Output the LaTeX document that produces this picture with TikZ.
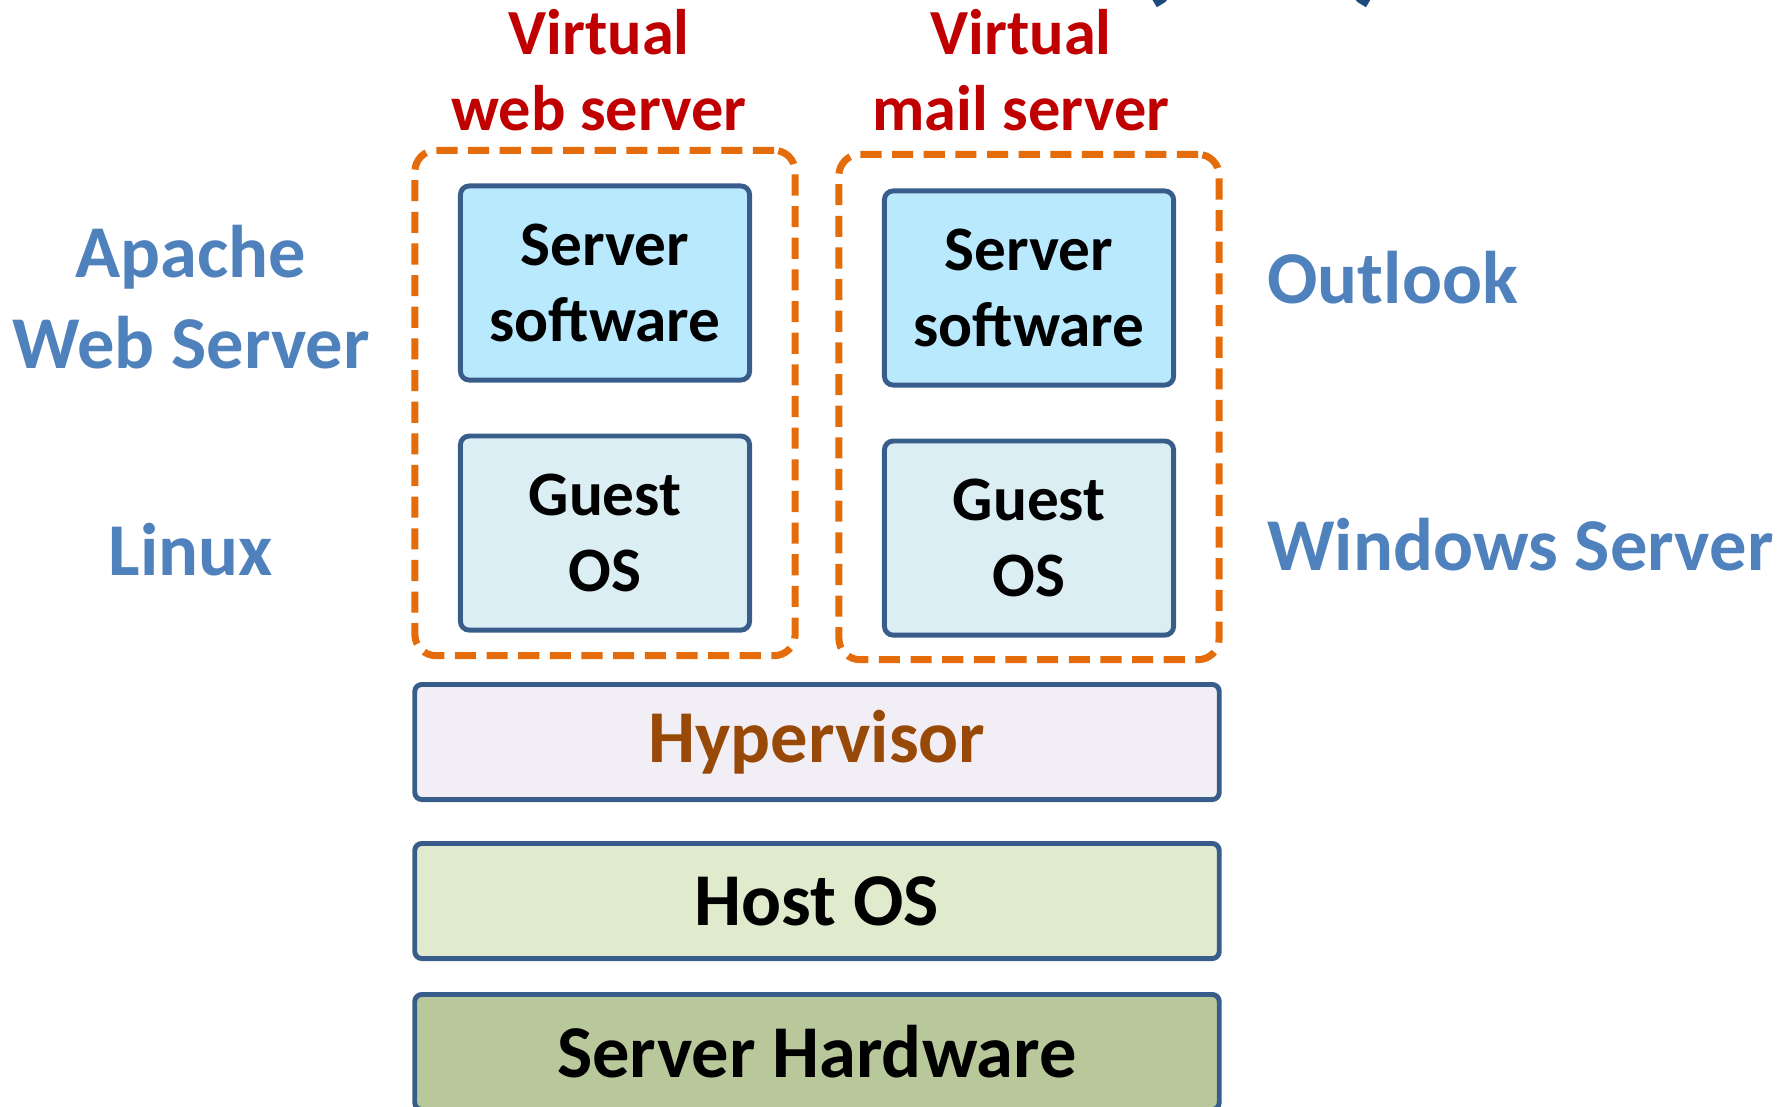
\documentclass[tikz,border=0pt]{standalone}
\usepackage{fontspec}
\setmainfont{Carlito}
\usetikzlibrary{positioning}

\definecolor{boxline}{HTML}{385D8A}
\definecolor{vmorange}{HTML}{E46C0A}
\definecolor{tagred}{HTML}{C00000}
\definecolor{labelblue}{HTML}{4F81BD}
\definecolor{titleblue}{HTML}{1F497D}
\definecolor{swfill}{HTML}{B9E9FD}
\definecolor{guestfill}{HTML}{DBEEF4}
\definecolor{hyperfill}{HTML}{F1EFF5}
\definecolor{hypertext}{HTML}{984807}
\definecolor{hostfill}{HTML}{E0EACD}
\definecolor{hwfill}{HTML}{B9C89B}

\begin{document}
\begin{tikzpicture}[
            x = 0.01cm, y = -0.01cm, % one unit per pixel, y pointing down
            node distance = 0.51cm, % gap between stacked boxes
            font = \bfseries
        ]

        \tikzstyle{part}=[
            draw = boxline,
            line width = 1.4pt,
            rounded corners = 2.5pt,
            minimum width = 2.89cm,
            minimum height = 1.94cm,
            align = center,
            font = \fontsize{18}{21.5}\selectfont\bfseries
        ]
        \tikzstyle{layer}=[
            draw = boxline,
            line width = 1.4pt,
            rounded corners = 2pt,
            minimum width = 8.04cm,
            minimum height = 1.15cm,
            font = \fontsize{21.2}{25}\selectfont\bfseries
        ]
        \tikzstyle{vm}=[
            draw = vmorange,
            line width = 2pt,
            dash pattern = on 6pt off 3pt,
            rounded corners = 6pt,
            minimum width = 3.8cm,
            minimum height = 5.05cm
        ]
        \tikzstyle{tag}=[text = tagred, align = center, font = \fontsize{18.3}{21.8}\selectfont\bfseries]
        \tikzstyle{oslabel}=[text = labelblue, align = center, font = \fontsize{21.2}{25.8}\selectfont\bfseries]

        \clip (0,0) rectangle (1779,1106);
        \useasboundingbox (0,0) rectangle (1779,1106);

        % title, cut off by the top edge
        \node[anchor = base, text = titleblue, inner sep = 0pt, font = \fontsize{40}{48}\selectfont\bfseries] (title) at (1262,-14) {(\hspace{1.75cm})};

        % virtual machines
        \node[vm] (webvm) at (605,403) {};
        \node[vm] (mailvm) at (1029,407) {};
        \node[tag] (webtag) at (599,70) {Virtual\\web server};
        \node[tag] (mailtag) at (1021,70) {Virtual\\mail server};

        \node[part, fill = swfill] (websw) at (605,283) {Server\\software};
        \node[part, fill = guestfill] (webos) [below = of websw] {Guest\\OS};
        \node[part, fill = swfill] (mailsw) at (1029,288) {Server\\software};
        \node[part, fill = guestfill] (mailos) [below = of mailsw] {Guest\\OS};

        % layers underneath
        \node[layer, fill = hyperfill, text = hypertext] (hyper) at (817,742) {Hypervisor};
        \node[layer, fill = hostfill] (host) at (817,901) {Host OS};
        \node[layer, fill = hwfill] (hw) at (817,1052) {Server Hardware};

        % what runs in each machine
        \node[oslabel] (apache) at (191,297) {Apache\\Web Server};
        \node[oslabel] (linux) at (191,550) {Linux};
        \node[oslabel, anchor = west] (outlook) at (1255,278) {Outlook};
        \node[oslabel, anchor = west] (windows) at (1255,545) {Windows Server};

  \end{tikzpicture}
\end{document}
